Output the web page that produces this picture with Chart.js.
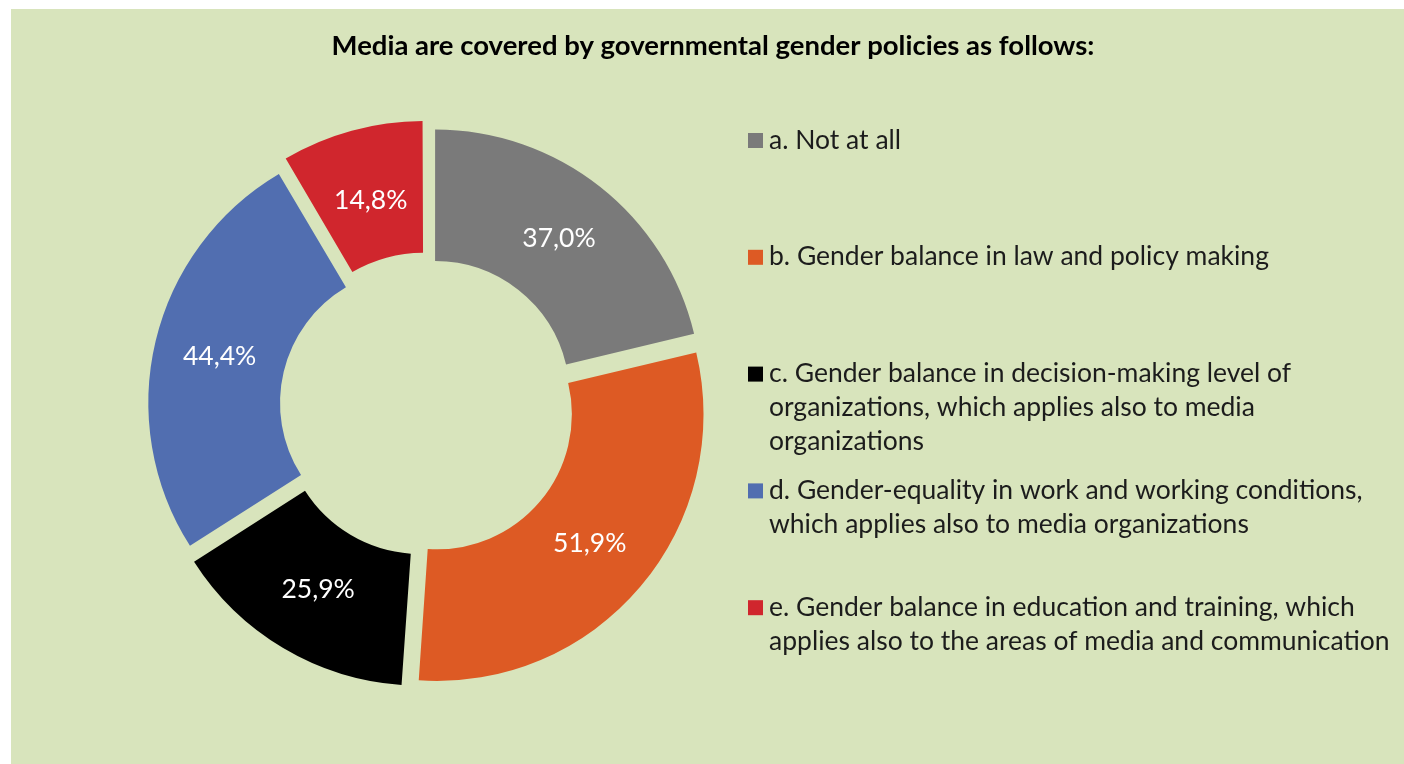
<!DOCTYPE html>
<html>
<head>
<meta charset="utf-8">
<script src="https://cdn.jsdelivr.net/npm/chart.js@4.4.1/dist/chart.umd.min.js"></script>
<style>
  html, body { margin: 0; padding: 0; background: #ffffff; }
  #panel { position: absolute; left: 11px; top: 9px; width: 1393px; height: 755px; background: #D8E4BC; }
  #c { position: absolute; left: 0; top: 0; }
</style>
</head>
<body>
<div id="panel"></div>
<canvas id="c" width="1404" height="764"></canvas>
<script>
// ---- data ----
const chartTitle = 'Media are covered by governmental gender policies as follows:';
const categories = [
  ['a. Not at all'],
  ['b. Gender balance in law and policy making'],
  ['c. Gender balance in decision-making level of', 'organizations, which applies also to media', 'organizations'],
  ['d. Gender-equality in work and working conditions,', 'which applies also to media organizations'],
  ['e. Gender balance in education and training, which', 'applies also to the areas of media and communication']
];
const shares = [37.0, 51.9, 25.9, 44.4, 14.8];
const sliceColors = ['#7A7A7A', '#DD5A24', '#000000', '#516EB0', '#D0262D'];

const FONT = 'Lato, "Open Sans", "Liberation Sans", sans-serif';
const fmtPct = v => v.toFixed(1).replace('.', ',') + '%';

// Title drawn across the full panel width
const titlePlugin = {
  id: 'panelTitle',
  afterDraw(chart) {
    const ctx = chart.ctx;
    ctx.save();
    ctx.fillStyle = '#000000';
    ctx.font = 'bold 27.5px ' + FONT;
    ctx.textAlign = 'center';
    ctx.textBaseline = 'alphabetic';
    ctx.fillText(chartTitle, 713, 55);
    ctx.restore();
  }
};

// Percentage labels in the middle of each ring segment
const sliceLabels = {
  id: 'sliceLabels',
  afterDatasetsDraw(chart) {
    const ctx = chart.ctx;
    const meta = chart.getDatasetMeta(0);
    ctx.save();
    ctx.fillStyle = '#ffffff';
    ctx.font = '26.5px ' + FONT;
    ctx.textAlign = 'center';
    ctx.textBaseline = 'middle';
    meta.data.forEach((arc, i) => {
      const p = arc.getProps(['x', 'y', 'startAngle', 'endAngle', 'innerRadius', 'outerRadius'], true);
      const shift = (arc.options.offset || 0) / 4;
      const mid = (p.startAngle + p.endAngle) / 2;
      const r = (p.innerRadius + p.outerRadius) / 2 + shift;
      ctx.fillText(fmtPct(shares[i]), p.x + Math.cos(mid) * r, p.y + Math.sin(mid) * r);
    });
    ctx.restore();
  }
};

// Legend on the right with wrapped category names
const sideLegend = {
  id: 'sideLegend',
  afterDraw(chart) {
    const ctx = chart.ctx;
    const x0 = 748, textX = 769, firstY = 140, step = 116.8, lineH = 34;
    ctx.save();
    ctx.font = '26.5px ' + FONT;
    ctx.textAlign = 'left';
    ctx.textBaseline = 'middle';
    categories.forEach((lines, i) => {
      const y = firstY + i * step;
      ctx.fillStyle = sliceColors[i];
      ctx.fillRect(x0, y - 7, 15, 15);
      ctx.fillStyle = '#1c1c1c';
      lines.forEach((t, k) => ctx.fillText(t, textX, y + k * lineH));
    });
    ctx.restore();
  }
};

function build() {
  new Chart(document.getElementById('c'), {
    type: 'doughnut',
    data: {
      labels: categories.map(l => l.join(' ')),
      datasets: [{
        data: shares,
        backgroundColor: sliceColors,
        borderWidth: 0,
        offset: 52
      }]
    },
    options: {
      responsive: false,
      animation: false,
      radius: 266,
      cutout: '50.5%',
      layout: { padding: { left: 100, right: 650, top: 100, bottom: 52 } },
      plugins: {
        legend: { display: false },
        tooltip: { enabled: false },
        title: { display: false }
      }
    },
    plugins: [sliceLabels, sideLegend, titlePlugin]
  });
}

if (document.fonts && document.fonts.load) {
  Promise.all([document.fonts.load('26.5px Lato'), document.fonts.load('bold 27.5px Lato')])
    .then(build, build);
} else {
  build();
}
</script>
</body>
</html>
